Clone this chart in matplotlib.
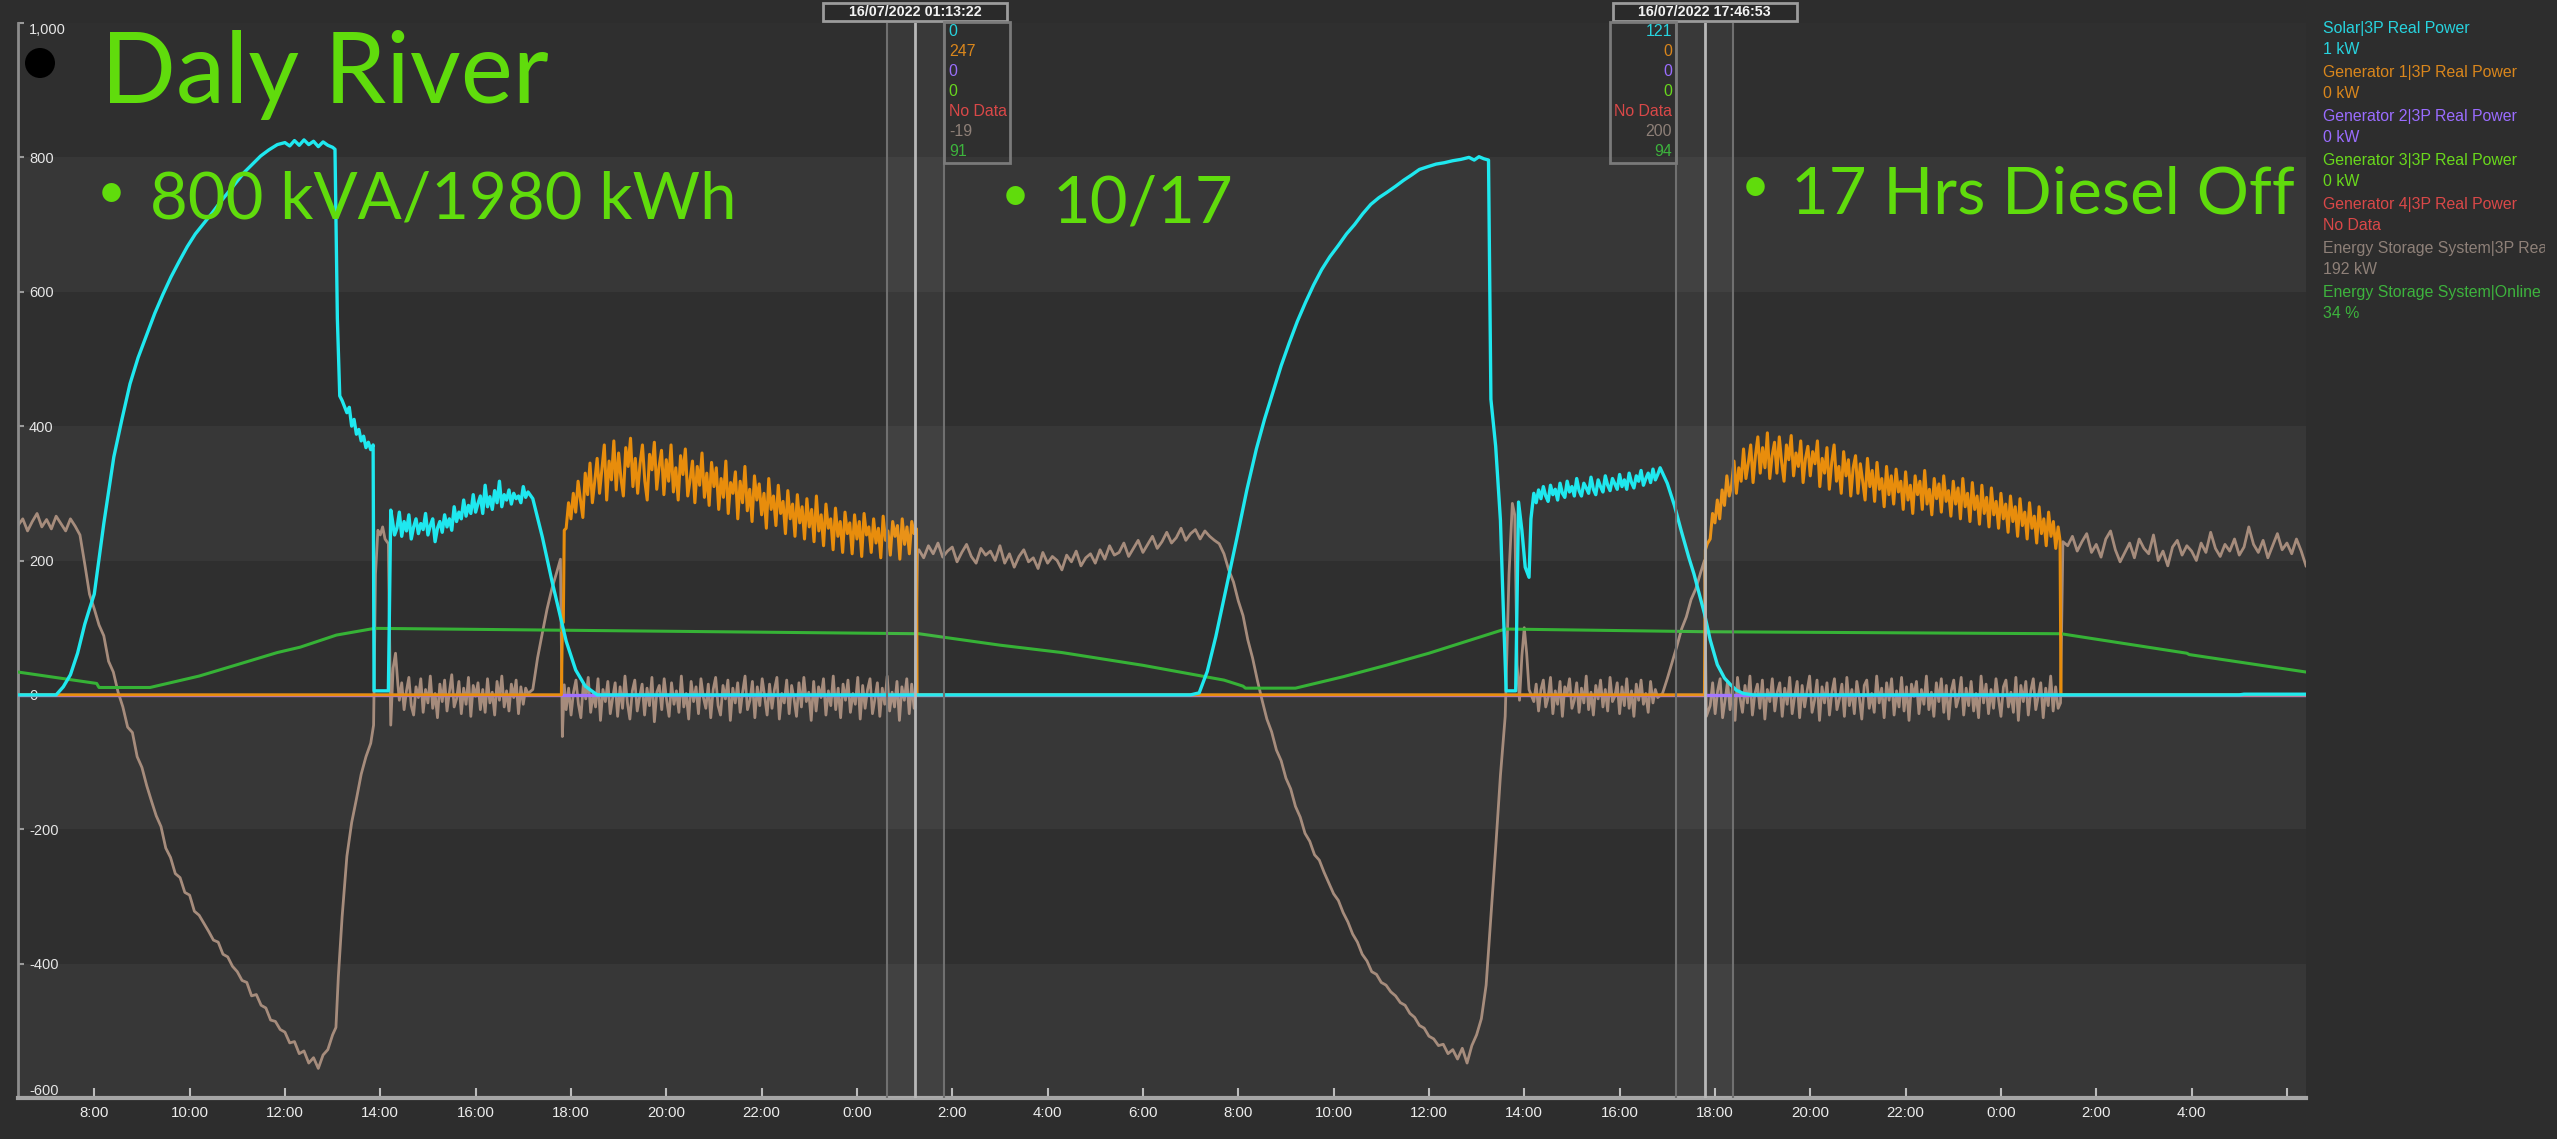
import numpy as np
import matplotlib.pyplot as plt
from matplotlib.patches import Rectangle, Ellipse
from matplotlib.transforms import blended_transform_factory, Bbox, TransformedBbox

plt.rcParams['axes.unicode_minus'] = False
plt.rcParams['font.family'] = ['Liberation Sans', 'DejaVu Sans']

# ---------------- data ----------------
# time = hours since 00:00 on 15/07/2022, power in kW, state of charge in %
x_ticks = [8, 10, 12, 14, 16, 18, 20, 22, 24, 26, 28, 30, 32, 34, 36, 38, 40, 42, 44, 46, 48, 50, 52, 54]
x_tick_labels = ['8:00', '10:00', '12:00', '14:00', '16:00', '18:00', '20:00', '22:00', '0:00', '2:00',
                 '4:00', '6:00', '8:00', '10:00', '12:00', '14:00', '16:00', '18:00', '20:00', '22:00',
                 '0:00', '2:00', '4:00', '']
y_ticks = [-600, -400, -200, 0, 200, 400, 600, 800, 1000]
y_tick_labels = ['-600', '-400', '-200', '0', '200', '400', '600', '800', '1,000']

# Solar|3P Real Power
solar_t1 = [6.4, 7.2, 7.35, 7.5, 7.65, 7.8, 7.9, 8.0, 8.2, 8.41, 8.58, 8.75, 8.92, 9.1, 9.27, 9.44, 9.61,
            9.78, 9.95, 10.12, 10.3, 10.47, 10.64, 10.8, 10.98, 11.15, 11.32, 11.49, 11.66, 11.84, 12.0,
            12.1, 12.2, 12.3, 12.4, 12.5, 12.6, 12.7, 12.8, 12.9, 13.0, 13.05, 13.1, 13.15, 13.2, 13.3,
            13.35, 13.4, 13.45, 13.5, 13.55, 13.6, 13.65, 13.7, 13.75, 13.8, 13.85, 13.87, 14.17, 14.22]
solar_v1 = [0, 0, 12, 30, 62, 105, 128, 150, 255, 354, 410, 463, 502, 536, 568, 596, 622,
            645, 667, 686, 702, 717, 733, 747, 763, 778, 790, 802, 811, 819, 822,
            817, 825, 818, 826, 819, 824, 816, 823, 818, 815, 812, 560, 445, 438, 420,
            428, 400, 410, 388, 395, 378, 385, 368, 376, 365, 372, 6, 6, 275]
solar_plateau1 = [262, 238, 248, 272, 236, 258, 244, 268, 232, 250, 262, 240, 255, 246, 270, 238, 252,
                  262, 228, 248, 258, 242, 268, 250, 262, 245, 280, 258, 272, 262, 290, 266, 282, 270,
                  298, 272, 285, 296, 270, 312, 280, 295, 276, 304, 286, 318, 280, 298, 290, 305, 284,
                  300, 292, 296, 286, 310, 294, 302]  # 14.25 .. 17.1 h
solar_t2 = [17.2, 17.4, 17.6, 17.76, 17.9, 18.1, 18.3, 18.55, 31.0, 31.18, 31.35, 31.53, 31.75, 31.97,
            32.18, 32.38, 32.55, 32.73, 32.9, 33.07, 33.24, 33.41, 33.58, 33.75, 33.92, 34.1, 34.27,
            34.44, 34.61, 34.78, 34.95, 35.12, 35.3, 35.47, 35.64, 35.8, 35.97, 36.15, 36.32, 36.5,
            36.67, 36.84, 36.95, 37.05, 37.15, 37.25, 37.3, 37.4, 37.5, 37.55, 37.62, 37.82, 37.88,
            37.95, 38.02, 38.1, 38.14]
solar_v2 = [292, 235, 170, 122, 80, 37, 13, 0, 0, 3, 35, 87, 160, 233,
            305, 366, 410, 451, 490, 524, 556, 584, 610, 633, 652, 669, 686,
            700, 716, 730, 740, 748, 757, 766, 774, 782, 786, 790, 792, 795,
            797, 800, 796, 801, 798, 796, 440, 370, 260, 150, 6, 6, 287,
            245, 190, 175, 262]
solar_plateau2 = [300, 286, 305, 292, 310, 296, 288, 312, 298, 306, 290, 315, 300, 294, 318, 302, 310,
                  296, 322, 304, 296, 315, 308, 300, 324, 306, 298, 320, 310, 302, 326, 312, 304, 322,
                  314, 306, 328, 310, 320, 306, 330, 316, 308, 326, 318, 334, 312, 322, 330, 316, 336,
                  320, 328, 338]  # 38.2 .. 40.85 h
solar_t3 = [41.0, 41.15, 41.29, 41.45, 41.56, 41.78, 41.9, 42.05, 42.2, 42.33, 42.45, 42.6, 42.8, 53.0, 53.1, 54.4]
solar_v3 = [315, 282, 245, 205, 180, 121, 82, 45, 25, 15, 7, 2, 0, 0, 1, 1]

# Generator 1|3P Real Power
gen1_t1 = [6.4, 17.8, 17.82, 17.84, 17.86]
gen1_v1 = [0, 0, 107, 108, 245]
gen1_run1 = [248, 286, 262,
             300, 272, 318, 290, 264, 330, 298, 345, 286, 318, 352, 300, 336, 372, 290, 348, 320, 378, 305,
             360, 322, 296, 368, 340, 382, 310, 352, 300, 344, 372, 318, 290, 358, 335, 376, 306, 340, 364, 298,
             350, 318, 372, 302, 338, 290, 356, 328, 366, 296, 320, 348, 286, 340, 312, 360, 294, 330, 282, 346,
             310, 338, 276, 322, 294, 348, 270, 316, 300, 332, 262, 318, 286, 340, 274, 306, 258, 326, 290, 314,
             268, 300, 248, 322, 276, 296, 252, 312, 270, 288, 240, 304, 262, 284, 236, 298, 256, 280, 232, 292,
             250, 276, 228, 296, 244, 268, 222, 284, 248, 262, 216, 278, 236, 258, 212, 272, 240, 256, 210, 268,
             232, 258, 206, 270, 238, 250, 212, 262, 226, 248, 204, 266, 230, 244, 208, 258, 236, 252, 202, 262,
             224, 250, 210, 258, 240]  # 17.9 .. 25.2 h
gen1_t2 = [25.22, 25.25, 25.26, 41.78, 41.8, 41.84]
gen1_v2 = [247, 247, 0, 0, 216, 225]
gen1_run2 = [232, 270, 256,
             290, 262, 305, 282, 326, 296, 312, 348, 300, 338, 318, 366, 322, 345, 372, 316, 356, 384, 330,
             368, 338, 390, 322, 356, 376, 330, 384, 346, 318, 372, 350, 386, 326, 360, 340, 378, 316, 352, 370,
             326, 362, 344, 378, 310, 352, 330, 368, 306, 346, 372, 318, 340, 300, 362, 326, 350, 296, 338, 356,
             300, 344, 318, 290, 352, 310, 334, 288, 346, 306, 322, 280, 340, 298, 326, 284, 336, 302, 318, 276,
             332, 290, 312, 270, 326, 298, 318, 276, 334, 284, 306, 268, 322, 292, 314, 272, 326, 288, 304, 266,
             318, 284, 308, 262, 322, 280, 300, 258, 316, 276, 296, 254, 312, 270, 294, 250, 308, 268, 288, 248,
             300, 262, 284, 242, 296, 258, 280, 236, 292, 252, 272, 232, 286, 248, 266, 226, 280, 240, 262, 222,
             272, 236, 258, 218, 250]  # 41.9 .. 49.2 h
gen1_t3 = [49.24, 49.26, 54.4]
gen1_v3 = [230, 0, 0]

# Generator 2 and 3 stay at 0 kW, Generator 4 has no data
gen_off_t = [6.4, 54.4]
gen_off_v = [0, 0]

# Energy Storage System|3P Real Power
ess_a = [252, 262, 244, 258, 270, 250, 261, 247, 266, 255, 244, 262, 251]  # 6.4 .. 7.6 h
ess_b = [238, 195, 150, 128, 104, 88, 50, 34, 4, -18, -48, -56, -92, -108, -135, -158, -180, -196,
         -228, -242, -266, -272, -294, -298, -322, -328, -340, -352, -365, -368, -386, -390, -404,
         -412, -425, -428, -448, -446, -462, -466, -484, -486, -498, -502, -518, -516, -534, -530,
         -548, -540, -556, -536, -528, -506]  # 7.7 .. 13.0 h
ess_t1 = [13.07, 13.12, 13.2, 13.3, 13.4, 13.5, 13.6, 13.7, 13.8, 13.86, 13.9, 13.95, 14.0, 14.05,
          14.1, 14.17, 14.22, 14.27, 14.32, 14.37]
ess_v1 = [-495, -420, -330, -240, -190, -155, -118, -92, -72, -45, 180, 245, 238, 250,
          232, 225, -45, 40, 62, 15]
ess_c = [-8, 18, -22, 6, 26, -16, -30, 12, -4, 24, -26, 8, -12, 28, -20, 2, -34, 16, -10, 22, -24, 4,
         30, -18, -6, 20, -28, 10, -14, 26, -32, 14, -2, 18, -22, 8, -26, 24, -12, 4, -30, 20, -8, 28,
         -18, 6, -24, 16, -4, 22, -28, 12, -14, 10, 2]  # 14.4 .. 17.1 h
ess_t2 = [17.2, 17.3, 17.4, 17.5, 17.6, 17.7, 17.78, 17.82, 17.86]
ess_v2 = [8, 55, 92, 128, 158, 182, 202, -62, 15]
ess_d = [-22, 10, -30, 4, 22, -14, -34, 16, -6, 26, -26, 2, -18, 24, -38, 8, -10, 20, -28, -4, 18, -32,
         12, -20, 28, -12, -36, 6, 22, -24, -2, 16, -30, 10, -16, 26, -40, 4, 14, -22, 24, -8, -32, 18,
         -14, 6, -26, 28, -18, 2, -36, 20, -10, 12, -28, 24, -4, -20, 16, -34, 8, 26, -16, -30, 14, -6,
         22, -38, 10, -12, 18, -26, 4, 28, -22, -8, 20, -34, 12, -16, 24, -2, -30, 16, -20, 8, 26, -36,
         2, -12, 22, -28, 14, -6, -32, 18, -18, 26, -10, 4, -38, 20, -24, 12, -4, 24, -30, 6, -16, 28,
         -22, 10, -34, 16, -8, 22, -26, 2, -14, 26, -36, 14, -20, 8, 24, -28, -6, 18, -32, 10, -14, 28,
         -24, 4, -18, 20, -38, 12, -8, 24, -28, 16, -20]  # 17.9 .. 25.2 h
ess_t3 = [25.22, 25.27]
ess_v3 = [-19, 212]
ess_e = [216, 204, 222, 210, 226, 205, 214, 220, 198, 212, 224, 206, 196, 218, 208, 214, 200, 222, 196,
         210, 190, 206, 216, 198, 204, 188, 212, 196, 206, 200, 186, 208, 198, 214, 192, 204, 210, 196,
         216, 202, 222, 208, 212, 226, 206, 218, 230, 212, 224, 236, 218, 228, 242, 226, 234, 248, 230,
         240, 246, 232, 244, 236, 230]  # 25.3 .. 31.5 h
ess_f = [225, 210, 186, 168, 140, 118, 82, 55, 22, -8, -36, -55, -82, -98, -124, -140, -166, -182,
         -206, -218, -238, -246, -264, -280, -296, -306, -324, -338, -356, -368, -386, -396, -412,
         -416, -428, -432, -442, -448, -458, -462, -474, -480, -492, -496, -508, -512, -522, -520,
         -534, -528, -542, -526, -548, -522, -506]  # 31.6 .. 37.0 h
ess_t4 = [37.1, 37.2, 37.3, 37.4, 37.5, 37.6, 37.68, 37.75, 37.8, 37.85, 37.9, 37.95, 38.0, 38.05, 38.1]
ess_v4 = [-482, -432, -330, -228, -120, -32, 180, 285, 268, 45, -8, 58, 100, 62, 8]
ess_g = [-10, 16, -24, 8, 22, -18, -4, 26, -28, 6, -14, 20, -32, 12, 2, 24, -20, -8, 18, -26, 10, -12,
         28, -22, 4, -30, 14, -6, 22, -18, 8, -24, 26, -10, -2, 18, -28, 12, -16, 24, -20, 6, -32, 16,
         -8, 22, -14, 2, -26, 20, -12, 8, -4]  # 38.2 .. 40.8 h
ess_t5 = [40.9, 41.0, 41.1, 41.2, 41.3, 41.4, 41.5, 41.6, 41.7, 41.78, 41.82]
ess_v5 = [2, 24, 48, 72, 98, 116, 142, 158, 182, 200, -32]
ess_h = [-16, 18, -28, 6, 24, -34, -8, 20, -22, 12, -38, 26, -4, -26, 14, -12, 28, -30, 2, 16, -20, 22,
         -36, 8, -10, 24, -24, 4, 18, -32, 10, -14, 26, -28, -2, 20, -34, 14, -18, 6, 28, -26, -8, 22,
         -38, 12, -12, 18, -30, 4, 24, -22, -6, 16, -32, 26, -16, 8, -28, 20, -4, -36, 14, 22, -20, 2,
         -26, 28, -12, 10, -34, 18, -8, 24, -30, 6, -18, 26, -24, 12, -38, 16, -2, 20, -28, 8, -14, 28,
         -22, 4, -32, 18, -10, 24, -26, 14, -36, 6, 22, -18, -4, 26, -30, 10, -16, 20, -24, 2, -34, 28,
         -12, 16, -28, 8, -20, 24, -6, -32, 12, 22, -18, 4, -26, 26, -38, 14, -10, 20, -30, 6, 24, -22,
         -2, 18, -34, 10, -16, 28, -24, 12, -20]  # 41.9 .. 49.2 h
ess_t6 = [49.25, 49.3]
ess_v6 = [-12, 228]
ess_i = [222, 236, 214, 228, 240, 212, 224, 205, 232, 244, 216, 198, 212, 226, 204, 232, 218, 210, 238,
         200, 214, 192, 220, 230, 208, 222, 214, 200, 226, 212, 242, 218, 206, 224, 214, 232, 208, 220,
         250, 224, 212, 230, 204, 222, 240, 216, 226, 210, 232, 214, 192]  # 49.4 .. 54.4 h

# Energy Storage System|Online (%)
soc_t = [6.4, 8.05, 8.1, 9.17, 10.2, 11.0, 11.84, 12.32, 13.08, 13.88, 25.3, 27.0, 28.3, 30.0, 31.7,
         32.1, 32.15, 33.2, 34.2, 35.1, 36.0, 36.8, 37.6, 41.78, 49.26, 51.9, 51.95, 54.4]
soc_v = [34, 17, 11, 11, 28, 45, 63, 71, 89, 99, 91, 74, 63, 44, 22,
         13, 10, 10, 27, 44, 62, 80, 98, 94, 91, 62, 60, 34]

# cursors and legend
cursor_times = [25.2228, 41.7814]
cursor_stamps = ['16/07/2022 01:13:22', '16/07/2022 17:46:53']
cursor_values = [['0', '247', '0', '0', 'No Data', '-19', '91'],
                 ['121', '0', '0', '0', 'No Data', '200', '94']]
legend_names = ['Solar|3P Real Power', 'Generator 1|3P Real Power', 'Generator 2|3P Real Power',
                'Generator 3|3P Real Power', 'Generator 4|3P Real Power',
                'Energy Storage System|3P Real Power', 'Energy Storage System|Online']
legend_values = ['1 kW', '0 kW', '0 kW', '0 kW', 'No Data', '192 kW', '34 %']
legend_colors = ['#27d3de', '#d9861c', '#9a6cff', '#69d81c', '#d94848', '#8e8078', '#3db33d']


def build(pieces):
    # pieces: (times, values) pairs or (start, end, values) regularly sampled runs
    t, v = [], []
    for p in pieces:
        if len(p) == 3:
            t.extend(np.linspace(p[0], p[1], len(p[2])))
            v.extend(p[2])
        else:
            t.extend(p[0])
            v.extend(p[1])
    return np.array(t), np.array(v)


solar = build([(solar_t1, solar_v1), (14.25, 17.1, solar_plateau1), (solar_t2, solar_v2),
               (38.2, 40.85, solar_plateau2), (solar_t3, solar_v3)])
gen1 = build([(gen1_t1, gen1_v1), (17.9, 25.2, gen1_run1), (gen1_t2, gen1_v2),
              (41.9, 49.2, gen1_run2), (gen1_t3, gen1_v3)])
ess = build([(6.4, 7.6, ess_a), (7.7, 13.0, ess_b), (ess_t1, ess_v1), (14.4, 17.1, ess_c),
             (ess_t2, ess_v2), (17.9, 25.2, ess_d), (ess_t3, ess_v3), (25.3, 31.5, ess_e),
             (31.6, 37.0, ess_f), (ess_t4, ess_v4), (38.2, 40.8, ess_g), (ess_t5, ess_v5),
             (41.9, 49.2, ess_h), (ess_t6, ess_v6), (49.4, 54.4, ess_i)])

# ---------------- figure ----------------
W, H, DPI = 2557, 1139, 100
fig = plt.figure(figsize=(W / DPI, H / DPI), dpi=DPI)
fig.patch.set_facecolor('#2d2d2d')


def fx(px):
    return px / W


def fy(py):
    return 1 - py / H


ax = fig.add_axes([fx(18), fy(1098), fx(2306) - fx(18), fy(23) - fy(1098)])
ax.set_facecolor('#2f2f2f')
ax.set_xlim(6.4, 54.4)
ax.set_ylim(-600, 1000)

# alternating bands
for lo in [600, 200, -200, -600]:
    ax.axhspan(lo, lo + 200, color='#373737', lw=0, zorder=0)

ax.plot(ess[0], ess[1], color='#a68c7c', lw=2.0, zorder=2)
ax.plot(soc_t, soc_v, color='#36b236', lw=2.2, zorder=3)
ax.plot(gen_off_t, gen_off_v, color='#69d81c', lw=2.2, zorder=3.5)
ax.plot(gen_off_t, gen_off_v, color='#a070ff', lw=2.4, zorder=4)
ax.plot(gen1[0], gen1[1], color='#e88d0c', lw=2.2, zorder=5)
ax.plot(solar[0], solar[1], color='#1fe8ef', lw=2.4, zorder=6)

# axes styling
for s in ['top', 'right']:
    ax.spines[s].set_visible(False)
ax.spines['left'].set_color('#8c8c8c')
ax.spines['left'].set_linewidth(2)
ax.spines['bottom'].set_color('#a5a5a5')
ax.spines['bottom'].set_linewidth(3)

ax.set_xticks(x_ticks)
ax.set_xticklabels(x_tick_labels)
ax.tick_params(axis='x', direction='in', length=7, width=1.5, color='#bdbdbd',
               labelcolor='#ececec', labelsize=10.8, pad=6)
ax.set_yticks(y_ticks)
ax.set_yticklabels(y_tick_labels)
ax.tick_params(axis='y', direction='in', length=4, width=1.5, color='#9a9a9a',
               labelcolor='#e6e6e6', labelsize=10.5, pad=-8)
for lbl in ax.get_yticklabels():
    lbl.set_horizontalalignment('left')
ax.get_yticklabels()[0].set_verticalalignment('bottom')
ax.get_yticklabels()[-1].set_verticalalignment('top')

# cursors
trans = blended_transform_factory(ax.transData, fig.transFigure)
hpp = 48.0 / (2306 - 18)  # hours per pixel
for i, c in enumerate(cursor_times):
    ax.axvspan(c - 0.6, c + 0.6, color='white', alpha=0.05, lw=0, zorder=7)
    ax.axvline(c - 0.6, color='#707070', lw=1.5, zorder=7)
    ax.axvline(c + 0.6, color='#707070', lw=1.5, zorder=7)
    ax.axvline(c, color='#b8b8b8', lw=2, zorder=7)

    fig.add_artist(Rectangle((c - 92 * hpp, fy(21)), 184 * hpp, fy(3) - fy(21), transform=trans,
                             facecolor='#2a2a2a', edgecolor='#9c9c9c', lw=2))
    fig.text(c, fy(12), cursor_stamps[i], transform=trans, ha='center', va='center',
             fontsize=10.3, fontweight='bold', color='#f2f2f2')

    if i == 0:
        x0 = c + 0.6
        tx, ha = x0 + 5 * hpp, 'left'
    else:
        x0 = c - 0.6 - 66 * hpp
        tx, ha = c - 0.6 - 4 * hpp, 'right'
    fig.add_artist(Rectangle((x0, fy(163)), 66 * hpp, fy(22) - fy(163), transform=trans,
                             facecolor='none', edgecolor='#7a7a7a', lw=2))
    for k, val in enumerate(cursor_values[i]):
        fig.text(tx, fy(32 + 20 * k), val, transform=trans, ha=ha, va='center',
                 fontsize=11.4, color=legend_colors[k])

# legend panel
clip = TransformedBbox(Bbox([[0, 0], [2545 / W, 1]]), fig.transFigure)
for k in range(len(legend_names)):
    t = fig.text(fx(2323), fy(29 + 44 * k), legend_names[k], ha='left', va='center',
                 fontsize=11.4, color=legend_colors[k])
    t.set_clip_box(clip)
    t.set_clip_on(True)
    fig.text(fx(2323), fy(49 + 44 * k), legend_values[k], ha='left', va='center',
             fontsize=11.4, color=legend_colors[k])

# slide annotations
green = '#60dc0c'
fig.add_artist(Ellipse((fx(40), fy(63)), 30 / W, 30 / H, transform=fig.transFigure,
                       facecolor='black', edgecolor='none'))
fig.text(fx(101), fy(103), 'Daly River', fontsize=71, family=['Lato', 'DejaVu Sans'],
         color=green, ha='left', va='baseline')
for bx, by, tx0, text in [(111, 194, 150, '800 kVA/1980 kWh'), (1015, 197, 1053, '10/17'),
                          (1755, 188, 1791, '17 Hrs Diesel Off')]:
    base = by + 25
    fig.text(fx(bx), fy(by), '\u2022', fontsize=36, family=['Lato', 'DejaVu Sans'],
             color=green, ha='center', va='center')
    fig.text(fx(tx0), fy(base), text, fontsize=47, family=['Lato', 'DejaVu Sans'],
             color=green, ha='left', va='baseline')

fig.savefig('out.png', dpi=DPI, facecolor=fig.get_facecolor())
